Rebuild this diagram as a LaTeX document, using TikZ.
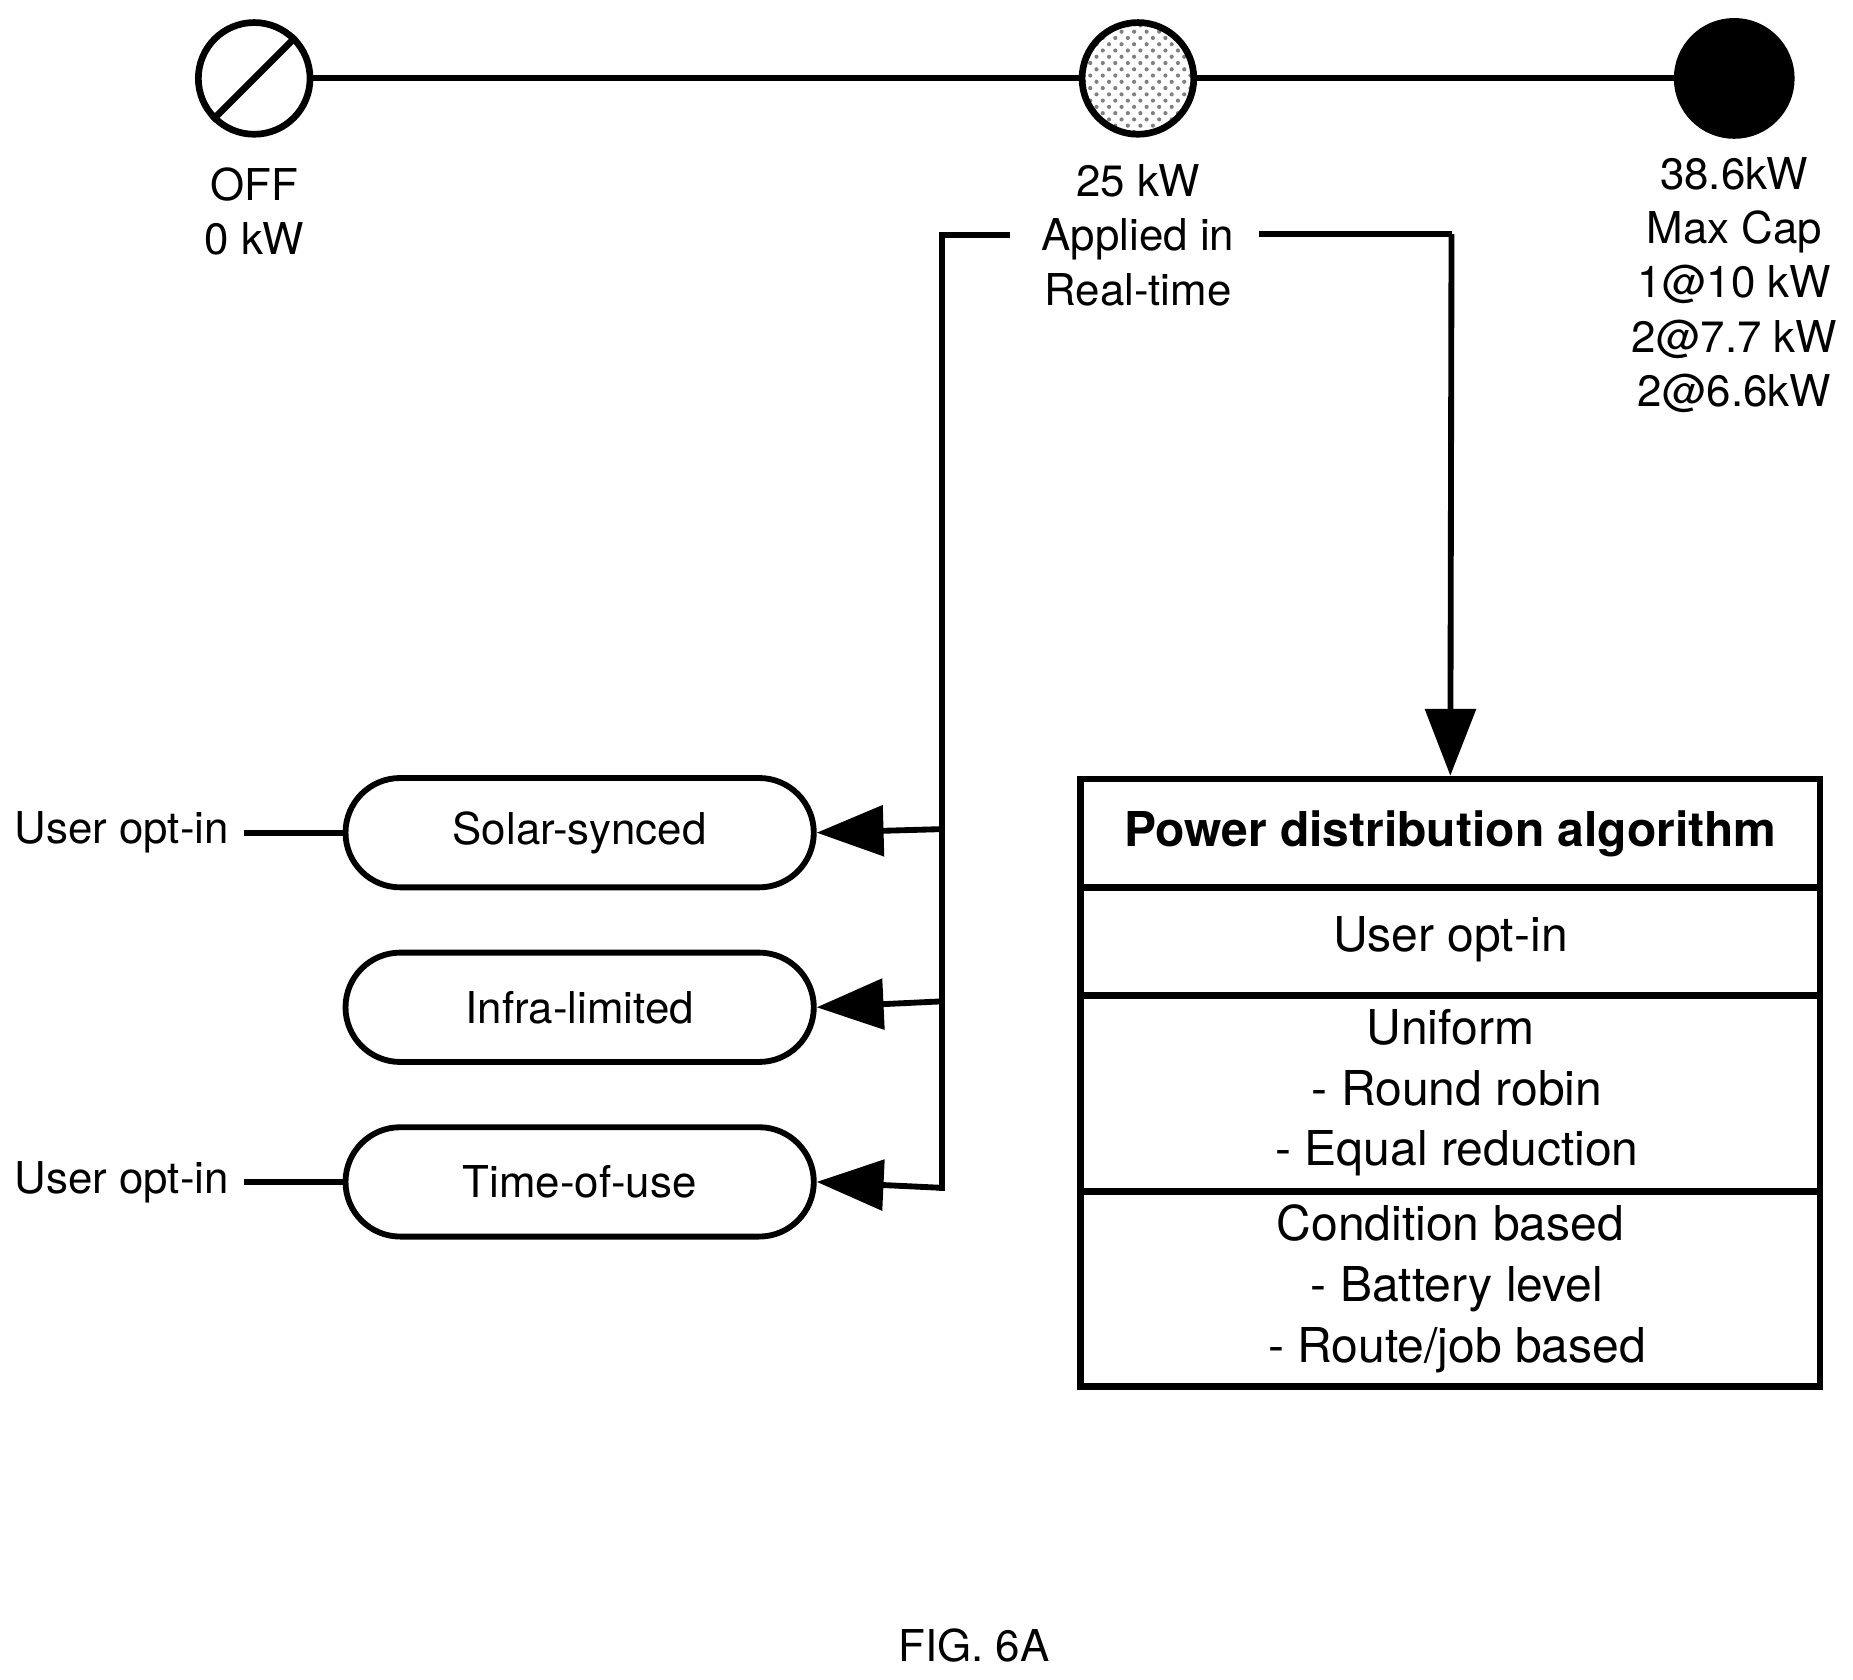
\documentclass[tikz,border=0pt]{standalone}
\usepackage{fontspec}
\setmainfont{TeX Gyre Heros}
\usetikzlibrary{arrows.meta,patterns}
\begin{document}
\begin{tikzpicture}[x=0.01cm,y=-0.01cm,
  lab/.style={font=\fontsize{10.5}{13}\selectfont,align=center},
  btxt/.style={font=\fontsize{11.5}{14.5}\selectfont,align=center},
  ln/.style={line width=1.4pt},
  arr/.style={ln,-{Triangle[length=16pt,width=12pt]}},
  pill/.style={draw,line width=1.4pt,rounded corners=46\pgflinewidth*0+0.46cm,minimum width=3.94cm,minimum height=0.92cm,font=\fontsize{10.5}{13}\selectfont}]
\useasboundingbox (0,0) rectangle (1560,1414);
% circles
\node[circle,draw,line width=1.6pt,minimum size=0.94cm,inner sep=0] (off) at (214,66) {};
\draw[line width=1.6pt] (off.225) -- (off.45);
\node[circle,draw,line width=1.6pt,minimum size=0.94cm,inner sep=0,fill=gray!45,pattern=crosshatch dots,pattern color=gray] (mid) at (958,66) {};
\node[circle,draw,line width=1.6pt,fill=black,minimum size=0.96cm,inner sep=0] (max) at (1460,66) {};
\draw[ln] (off) -- (mid) -- (max);
\node[lab] (offt) at (214,178) {OFF\\0 kW};
\node[lab] (midt) at (958,198) {25 kW\\Applied in\\Real-time};
\node[lab] (maxt) at (1460,240) {38.6kW\\Max Cap\\1@10 kW\\2@7.7 kW\\2@6.6kW};
% pills
\node[pill] (p1) at (488,701) {Solar-synced};
\node[pill] (p2) at (488,848) {Infra-limited};
\node[pill] (p3) at (488,995) {Time-of-use};
\node[lab,anchor=east] (u1) at (205,701) {User opt-in};
\node[lab,anchor=east] (u2) at (205,995) {User opt-in};
\draw[ln] (u1.east) -- (p1.west);
\draw[ln] (u2.east) -- (p3.west);
% connectors
\coordinate (lt) at (850,198);
\coordinate (lc) at (793,198);
\coordinate (lb) at (793,1003);
\draw[ln] (lt) -- (lc) -- (lb);
\draw[arr] (793,698) -- (p1.east);
\draw[arr] (793,843) -- (p2.east);
\draw[arr] (793,1000) -- (p3.east);
% box
\node[draw,line width=1.6pt,minimum width=6.22cm,minimum height=5.11cm] (box) at (1221,911.5) {};
\draw[line width=1.6pt] (910,747) -- (1532,747) (910,838) -- (1532,838) (910,1003) -- (1532,1003);
\node[btxt,font=\fontsize{11.5}{14.5}\selectfont\bfseries] (t0) at (1221,702) {Power distribution algorithm};
\node[btxt] (t1) at (1221,791) {User opt-in};
\node[btxt] (t2) at (1221,920) {Uniform\\\ - Round robin\\\ - Equal reduction};
\node[btxt] (t3) at (1221,1085) {Condition based\\\ - Battery level\\\ - Route/job based};
\coordinate (rt) at (1060,197);
\coordinate (rc) at (1222,197);
\draw[ln] (rt) -- (rc);
\draw[arr] (rc) -- (box.north);
\node[lab] (fig) at (820,1385) {FIG. 6A};
\end{tikzpicture}
\end{document}
